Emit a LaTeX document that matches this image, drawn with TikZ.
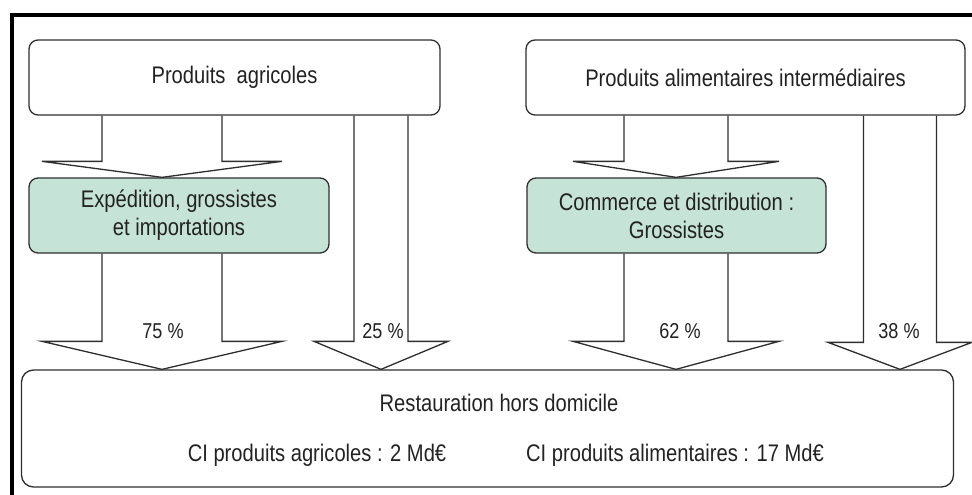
\documentclass[tikz,border=0pt]{standalone}
\usepackage{fontspec}
\setmainfont{Liberation Sans}[FakeStretch=0.84]
\usetikzlibrary{calc}
\definecolor{lineC}{HTML}{2E2E2E}
\definecolor{txtC}{HTML}{222222}
\definecolor{greenC}{HTML}{C6E3D8}
\tikzset{
  boxstyle/.style={draw=lineC, line width=1.3pt, rounded corners=9pt, minimum height=75pt, inner sep=0pt, align=center, text=txtC, font=\fontsize{24}{28}\selectfont},
  greenbox/.style={boxstyle, fill=greenC},
  arrowbody/.style={draw=lineC, line width=1.3pt, line join=miter},
  pct/.style={text=txtC, font=\fontsize{21.5}{24}\selectfont, inner sep=0pt},
  maintext/.style={text=txtC, font=\fontsize{24}{28}\selectfont, inner sep=0pt},
  frameline/.style={draw=black, line width=4pt}
}
% #1 x centre (px), #2 source node, #3 target node, #4 shaft half width, #5 head half width, #6 head length
\newcommand{\blockarr}[6]{%
  \draw[arrowbody] let \p1=(#2.south), \p2=(#3.north) in
    ({#1pt-#4pt},\y1) -- ({#1pt-#4pt},{\y2+#6pt}) -- ({#1pt-#5pt},{\y2+#6pt})
    -- ({#1pt},\y2) -- ({#1pt+#5pt},{\y2+#6pt}) -- ({#1pt+#4pt},{\y2+#6pt})
    -- ({#1pt+#4pt},\y1);}
\begin{document}
\begin{tikzpicture}[x=1pt,y=-1pt]
\useasboundingbox (0,0) rectangle (972,495);
% frame
\draw[frameline] (12,495) -- (12,15) -- (972,15);
% nodes
\node[boxstyle, minimum width=411pt] (pa) at (234.5,77.5) {Produits\ \ agricoles};
\node[boxstyle, minimum width=439pt] (pai) at (745.5,77.5) {Produits alimentaires intermédiaires};
\node[greenbox, minimum width=300pt] (exp) at (179,215.5) {Expédition, grossistes\\et importations};
\node[greenbox, minimum width=299pt] (com) at (676.5,215.5) {Commerce et distribution :\\Grossistes};
\node[boxstyle, rounded corners=12pt, minimum width=932pt, minimum height=117pt] (rhd) at (487.5,428.5) {};
\node[maintext] (t1) at (499,403) {Restauration hors domicile};
\node[maintext] (t2) at (317,455) {CI produits agricoles : 2 Md€};
\node[maintext] (t3) at (675,455) {CI produits alimentaires : 17 Md€};
% block arrows
\blockarr{162}{pa}{exp}{60}{120}{16}
\blockarr{162}{exp}{rhd}{60}{120}{28}
\blockarr{381}{pa}{rhd}{27}{67}{28}
\blockarr{676}{pai}{com}{52}{103}{16}
\blockarr{676}{com}{rhd}{52}{103}{28}
\blockarr{900}{pai}{rhd}{36.5}{72}{27}
% labels
\node[pct] (l75) at (163,331) {75 \%};
\node[pct] (l25) at (383,331) {25 \%};
\node[pct] (l62) at (680,331) {62 \%};
\node[pct] (l38) at (899,331) {38 \%};
\end{tikzpicture}
\end{document}
